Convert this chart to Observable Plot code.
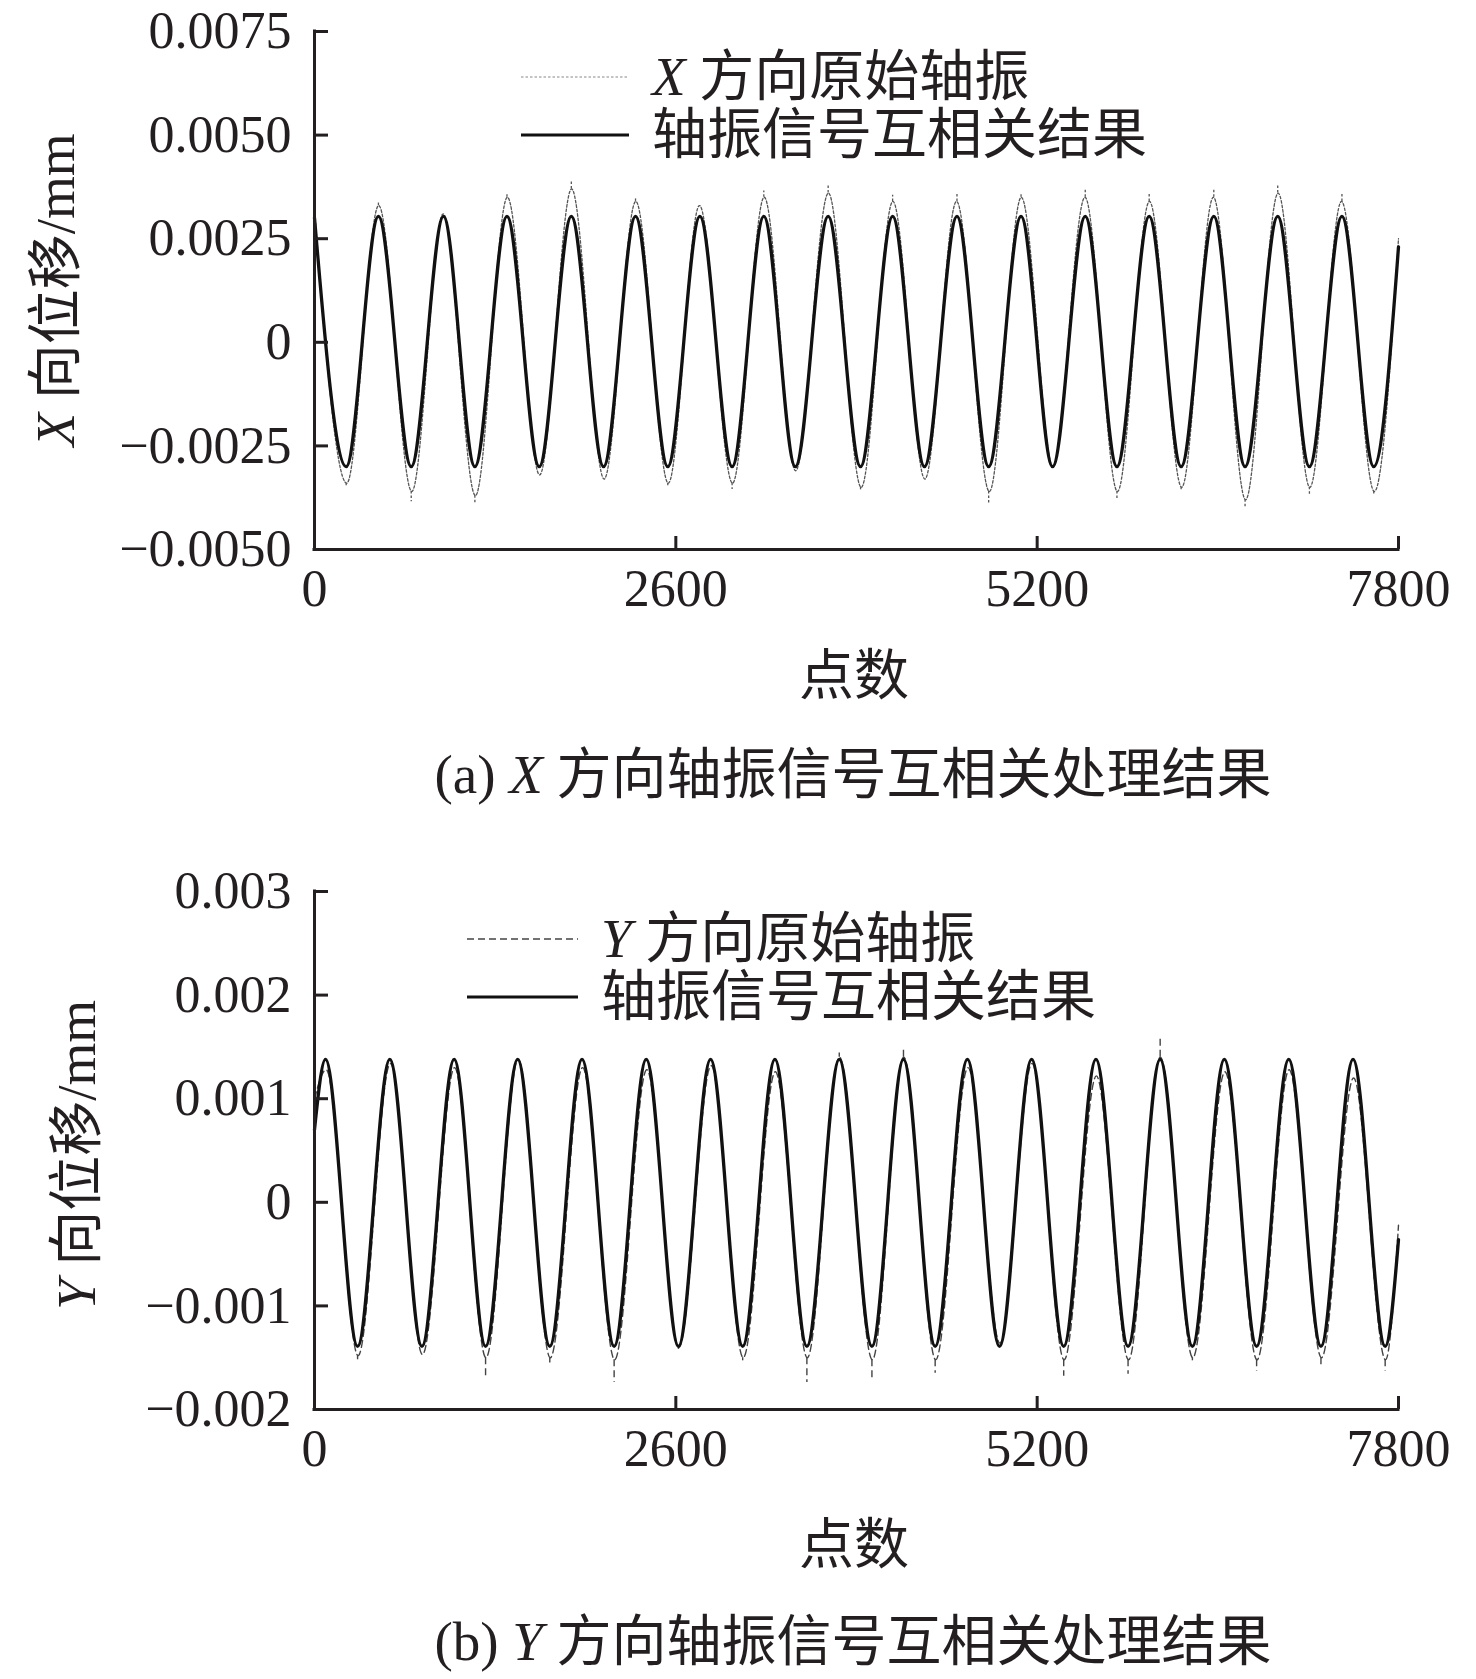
<!DOCTYPE html>
<html>
<head>
<meta charset="utf-8">
<script src="https://cdn.jsdelivr.net/npm/d3@7"></script>
<script src="https://cdn.jsdelivr.net/npm/@observablehq/plot@0.6"></script>
<style>
  html, body { margin: 0; padding: 0; background: #fff; }
  #page { position: relative; width: 1476px; height: 1679px; overflow: hidden; color: #231f20;
          font-family: "Liberation Serif", "Noto Sans CJK SC", serif; }
  .abs { position: absolute; white-space: nowrap; }
  .t { font-size: 55px; line-height: 64px; height: 64px; }
  .center { transform: translate(-50%, -50%); }
  .rot { transform: translate(-50%, -50%) rotate(-90deg); }
  i { font-family: "Liberation Serif", serif; font-style: italic; }
  svg.sample { position: absolute; overflow: visible; }
</style>
</head>
<body>
<div id="page"></div>
<script>
// ---------- tick labels ----------
const xTicks = [0, 2600, 5200, 7800];
const yTicksX = [-0.005, -0.0025, 0, 0.0025, 0.005, 0.0075];
const yTicksY = [-0.002, -0.001, 0, 0.001, 0.002, 0.003];

// ---------- X direction: cross-correlation result (solid) ----------
const xSolidN = [0, 228, 460, 696, 928, 1154, 1385, 1617, 1848, 2080, 2310, 2542, 2773, 3005, 3233, 3460, 3696,
  3929, 4160, 4389, 4623, 4851, 5084, 5311, 5546, 5774, 6006, 6236, 6471, 6696, 6931, 7159, 7393, 7622, 7800];
const xSolidV = [0.0030, -0.0030, 0.00304, -0.0030, 0.00304, -0.0030, 0.00304, -0.0030, 0.00304, -0.0030, 0.00304,
  -0.0030, 0.00304, -0.0030, 0.00304, -0.0030, 0.00304, -0.0030, 0.00304, -0.0030, 0.00304, -0.0030, 0.00304,
  -0.0030, 0.00304, -0.0030, 0.00304, -0.0030, 0.00304, -0.0030, 0.00304, -0.0030, 0.00304, -0.0030, 0.0023];

// ---------- X direction: raw shaft vibration (dotted) ----------
const xRawN = [0, 232, 462, 700, 926, 1158, 1388, 1620, 1850, 2084, 2312, 2546, 2770, 3008, 3236, 3462, 3698,
  3934, 4162, 4392, 4620, 4856, 5086, 5314, 5544, 5778, 6008, 6240, 6468, 6700, 6934, 7162, 7390, 7626, 7800];
const xRawV = [0.0032, -0.0034, 0.0033, -0.0036, 0.0031, -0.0037, 0.0035, -0.0032, 0.0037, -0.0033, 0.0034,
  -0.0034, 0.0033, -0.0034, 0.0035, -0.0031, 0.0036, -0.0035, 0.0034, -0.0033, 0.0034, -0.0036, 0.0035,
  -0.0030, 0.0035, -0.0036, 0.0034, -0.0035, 0.0035, -0.0038, 0.0036, -0.0035, 0.0034, -0.0036, 0.0025];
// spikes of the raw signal at its extremes
const xSpikeN = [228, 460, 696, 1154, 1385, 1848, 2310, 2542, 3005, 3233, 3696, 3929, 4160, 4623, 4851, 5084,
  5546, 5774, 6006, 6236, 6471, 6696, 6931, 7159, 7393, 7622];
const xSpikeBase = [-0.0034, 0.0033, -0.0036, -0.0037, 0.0035, 0.0037, 0.0034, -0.0034, -0.0034, 0.0035, 0.0036,
  -0.0035, 0.0034, 0.0034, -0.0036, 0.0035, 0.0035, -0.0036, 0.0034, -0.0035, 0.0035, -0.0038, 0.0036, -0.0035,
  0.0034, -0.0036];
const xSpikeTip = [-0.0035, 0.0034, -0.00385, -0.0039, 0.0036, 0.0039, 0.0035, -0.0035, -0.00355, 0.00365, 0.0038,
  -0.0036, 0.00355, 0.0036, -0.0039, 0.0036, 0.0037, -0.0038, 0.0036, -0.0036, 0.0037, -0.0040, 0.0038, -0.0037,
  0.0036, -0.0037];

// ---------- Y direction: cross-correlation result (solid) ----------
const ySolidN = [0, 79, 310, 542, 773, 1005, 1231, 1462, 1693, 1925, 2156, 2387, 2619, 2850, 3081, 3313, 3543,
  3776, 4011, 4238, 4466, 4698, 4929, 5160, 5391, 5623, 5854, 6085, 6317, 6547, 6779, 7010, 7242, 7473, 7704, 7800];
const ySolidV = [0.0007, 0.00138, -0.00139, 0.00138, -0.00139, 0.00138, -0.00139, 0.00138, -0.00139, 0.00138,
  -0.00139, 0.00138, -0.00139, 0.00138, -0.00139, 0.00138, -0.00139, 0.00138, -0.00139, 0.00138, -0.00139,
  0.00138, -0.00139, 0.00138, -0.00139, 0.00138, -0.00139, 0.00138, -0.00139, 0.00138, -0.00139, 0.00138,
  -0.00139, 0.00138, -0.00139, -0.00036];

// ---------- Y direction: raw shaft vibration (dashed) ----------
const yRawN = [0, 84, 314, 546, 777, 1008, 1234, 1466, 1697, 1929, 2160, 2391, 2622, 2854, 3085, 3316, 3546,
  3778, 4014, 4240, 4470, 4702, 4932, 5163, 5394, 5626, 5858, 6086, 6320, 6551, 6782, 7013, 7246, 7477, 7707, 7800];
const yRawV = [0.0010, 0.00128, -0.00148, 0.00134, -0.00147, 0.00130, -0.00150, 0.00138, -0.00150, 0.00130,
  -0.00152, 0.00128, -0.00140, 0.00132, -0.00150, 0.00126, -0.00150, 0.00140, -0.00152, 0.00140, -0.00152,
  0.00130, -0.00136, 0.00134, -0.00152, 0.00122, -0.00152, 0.00140, -0.00150, 0.00126, -0.00152, 0.00128,
  -0.00150, 0.00120, -0.00152, -0.00022];
const ySpikeN = [310, 1231, 1693, 2156, 2619, 3081, 3543, 3776, 4011, 4238, 4466, 5391, 5854, 6085, 6317, 6779,
  7242, 7704];
const ySpikeBase = [-0.00148, -0.00150, -0.00150, -0.00152, -0.00140, -0.00150, -0.00150, 0.00140, -0.00152,
  0.00140, -0.00152, -0.00152, -0.00152, 0.00140, -0.00150, -0.00152, -0.00150, -0.00152];
const ySpikeTip = [-0.00152, -0.00168, -0.00155, -0.00174, -0.00142, -0.00153, -0.00174, 0.00144, -0.00171,
  0.00147, -0.00165, -0.00168, -0.00166, 0.00158, -0.00153, -0.00163, -0.00157, -0.00163];

// ---------- texts ----------
const yLabelX = ["X", " 向位移/mm"];
const yLabelY = ["Y", " 向位移/mm"];
const xLabel = "点数";
const legendRawX = ["X", " 方向原始轴振"];
const legendRawY = ["Y", " 方向原始轴振"];
const legendSolid = "轴振信号互相关结果";
const captionA = ["(a) ", "X", " 方向轴振信号互相关处理结果"];
const captionB = ["(b) ", "Y", " 方向轴振信号互相关处理结果"];

// ---------- helpers ----------
const ink = "#231f20";
const toRows = (ns, vs) => ns.map((n, i) => ({n, v: vs[i]}));
const toSpikes = (ns, b, t) => ns.map((n, i) => ({n, b: b[i], t: t[i]}));
const fmt = digits => d => d === 0 ? "0" : (d < 0 ? "\u2212" : "") + Math.abs(d).toFixed(digits);

function panel({solid, raw, spikes, rawStroke, rawDash, rawWidth, yDomain, yTicks, yFmt}) {
  return Plot.plot({
    width: 1476, height: 620,
    marginTop: 31, marginBottom: 71, marginLeft: 314, marginRight: 78,
    x: {domain: [0, 7800]},
    y: {domain: yDomain},
    style: {fontFamily: "'Liberation Serif', 'Times New Roman', serif", fontSize: "52px", color: ink,
            background: "transparent", overflow: "visible"},
    marks: [
      Plot.ruleX(spikes, {x: "n", y1: "b", y2: "t", stroke: rawStroke, strokeWidth: rawWidth, strokeDasharray: rawDash}),
      Plot.line(raw, {x: "n", y: "v", curve: "monotone-x", stroke: rawStroke, strokeWidth: rawWidth, strokeDasharray: rawDash}),
      Plot.line(solid, {x: "n", y: "v", curve: "monotone-x", stroke: "#111", strokeWidth: 3.3}),
      Plot.ruleX([0], {stroke: ink, strokeWidth: 3, strokeLinecap: "square"}),
      Plot.ruleY([yDomain[0]], {stroke: ink, strokeWidth: 3, strokeLinecap: "square"}),
      Plot.axisX({ticks: xTicks, tickSize: 0, tickPadding: 20, tickFormat: d => String(d), label: null}),
      Plot.axisX({ticks: xTicks, tickSize: 13, dy: -13, tickFormat: () => "", label: null, strokeWidth: 3}),
      Plot.axisY({ticks: yTicks, tickSize: 0, tickPadding: 23, tickFormat: yFmt, label: null}),
      Plot.axisY({ticks: yTicks, tickSize: 14, dx: 14, tickFormat: () => "", label: null, strokeWidth: 3})
    ]
  });
}

const page = document.getElementById("page");
function place(el, top, left) {
  el.style.position = "absolute"; el.style.top = top + "px"; el.style.left = left + "px";
  page.appendChild(el);
}
function richText(parts) {
  return parts.map(p => /^[A-Z]$/.test(p) ? `<i>${p}</i>` : p.replace(/ /g, "&nbsp;")).join("");
}
function textAt(parts, cx, cy, cls) {
  const d = document.createElement("div");
  d.className = "abs t " + cls;
  d.innerHTML = richText(parts);
  d.style.left = cx + "px"; d.style.top = cy + "px";
  page.appendChild(d);
}
function textLeft(parts, left, cy) {
  const d = document.createElement("div");
  d.className = "abs t";
  d.innerHTML = richText(parts);
  d.style.left = left + "px"; d.style.top = (cy - 32) + "px";
  page.appendChild(d);
}
function sample(x1, x2, cy, stroke, width, dash) {
  const ns = "http://www.w3.org/2000/svg";
  const s = document.createElementNS(ns, "svg");
  s.setAttribute("class", "sample");
  s.setAttribute("width", x2 - x1); s.setAttribute("height", 10);
  s.style.left = x1 + "px"; s.style.top = (cy - 5) + "px";
  const l = document.createElementNS(ns, "line");
  l.setAttribute("x1", 0); l.setAttribute("x2", x2 - x1); l.setAttribute("y1", 5); l.setAttribute("y2", 5);
  l.setAttribute("stroke", stroke); l.setAttribute("stroke-width", width);
  if (dash) l.setAttribute("stroke-dasharray", dash);
  s.appendChild(l);
  page.appendChild(s);
}

// ---------- panel (a) ----------
const pa = panel({
  solid: toRows(xSolidN, xSolidV), raw: toRows(xRawN, xRawV), spikes: toSpikes(xSpikeN, xSpikeBase, xSpikeTip),
  rawStroke: "#555", rawDash: "2.5,2", rawWidth: 1.3,
  yDomain: [-0.005, 0.0075], yTicks: yTicksX, yFmt: fmt(4)
});
place(pa, 0, 0);

// ---------- panel (b) ----------
const pb = panel({
  solid: toRows(ySolidN, ySolidV), raw: toRows(yRawN, yRawV), spikes: toSpikes(ySpikeN, ySpikeBase, ySpikeTip),
  rawStroke: "#444", rawDash: "7,4", rawWidth: 1.4,
  yDomain: [-0.002, 0.003], yTicks: yTicksY, yFmt: fmt(3)
});
place(pb, 860, 0);

// ---------- axis titles, captions ----------
textAt(yLabelX, 56, 290, "rot");
textAt(yLabelY, 77, 1155, "rot");
textAt([xLabel], 854, 676, "center");
textAt([xLabel], 854, 1545, "center");
textAt(captionA, 853, 775, "center");
textAt(captionB, 853, 1642, "center");

// ---------- legends ----------
sample(521, 629, 77, "#888", 1.2, "2.5,2");
textLeft(legendRawX, 652, 77);
sample(521, 629, 135, "#111", 3.2, null);
textLeft([legendSolid], 652, 135);

sample(467, 578, 939, "#444", 1.4, "7,4");
textLeft(legendRawY, 601, 939);
sample(467, 578, 997, "#111", 3.2, null);
textLeft([legendSolid], 601, 997);
</script>
</body>
</html>
